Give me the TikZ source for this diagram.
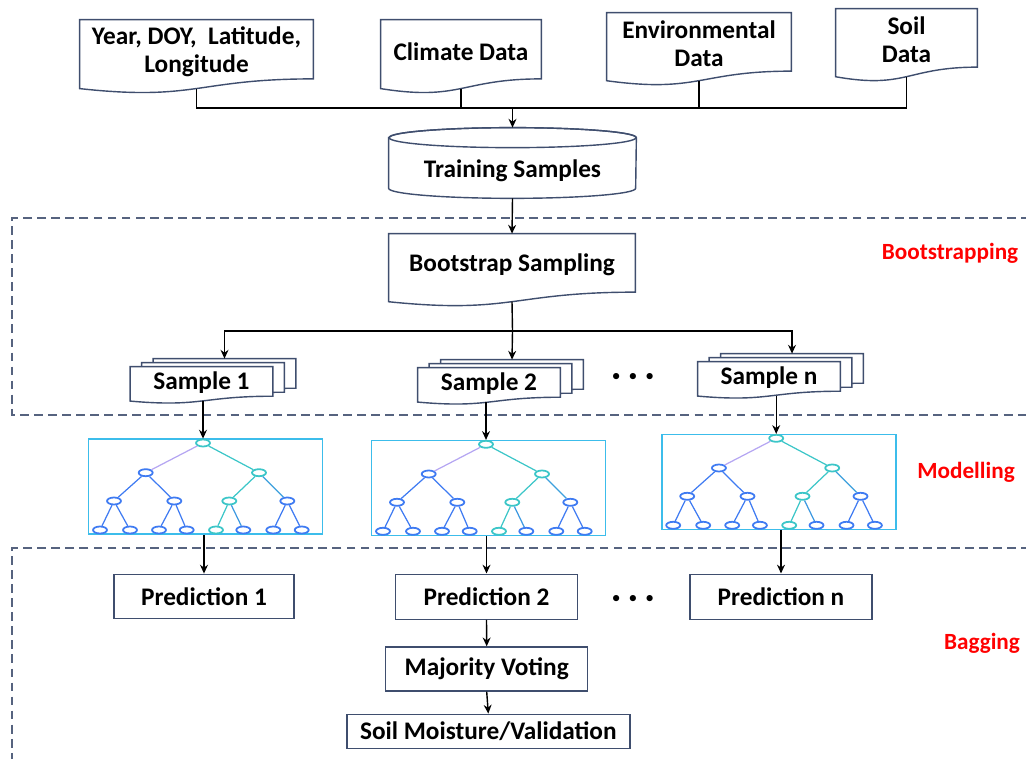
\documentclass[tikz,border=0pt]{standalone}
\usepackage{fontspec}
\setmainfont{Carlito}
\usetikzlibrary{arrows.meta,calc,shapes.geometric,backgrounds}

\definecolor{docedge}{HTML}{3F4E6E}
\definecolor{zonegray}{HTML}{56637F}
\definecolor{boxcyan}{HTML}{3CBDEB}
\definecolor{tblue}{HTML}{3F7BF2}
\definecolor{tteal}{HTML}{3CC6C8}
\definecolor{tlav}{HTML}{B5A6F2}

\def\pxu{0.02cm}
\newcommand\boxfont{\bfseries\fontsize{14.4}{16}\selectfont}

% wavy-bottom document outline behind a node
\newcommand\docpath[1]{%
  \begin{pgfonlayer}{background}
    \draw[docline, fill=white] (#1.north west) -- (#1.north east)
      -- ($(#1.north east)!0.933!(#1.south east)$)
      .. controls ($(#1.north)!0.933!(#1.south)$) and ($(#1.north)!1.287!(#1.south)$)
      .. ($(#1.north west)!1.086!(#1.south west)$) -- cycle;
  \end{pgfonlayer}
  \coordinate (#1-b) at ($(#1.north)!1.085!(#1.south)$);
}

\tikzset{
  docline/.style={draw=docedge, line width=0.8pt},
  sheet/.style={inner sep=1pt, align=center},
  plainbox/.style={draw=docedge, line width=0.8pt, inner sep=1pt, fill=white},
  wire/.style={black, line width=0.8pt},
  flow/.style={wire, -{Stealth[length=5pt,width=4.5pt]}},
  zone/.style={draw=zonegray, line width=0.8pt, dash pattern=on 5pt off 3pt},
  redlab/.style={red, font=\bfseries\fontsize{13.2}{15}\selectfont},
  dotrow/.style={font=\fontsize{10}{12}\selectfont},
  treebox/.style={draw=boxcyan, line width=1pt, inner sep=0,
    minimum width=234*\pxu, minimum height=95*\pxu},
  tnode/.style={ellipse, fill=white, line width=1pt, inner sep=0,
    minimum width=14*\pxu, minimum height=7*\pxu},
  tedge/.style={line width=0.7pt},
  dtree/.pic={
    \node[treebox] (-box) at (0,0) {};
    \node[tnode, draw=tteal] (-root) at (-2.5,-43.7) {};
    \node[tnode, draw=tblue] (-l) at (-59.8,-14) {};
    \node[tnode, draw=tteal] (-r) at (53.5,-14) {};
    \node[tnode, draw=tblue] (-ll) at (-91.5,14.3) {};
    \node[tnode, draw=tblue] (-lr) at (-31.2,14.3) {};
    \node[tnode, draw=tteal] (-rl) at (23.8,14.3) {};
    \node[tnode, draw=tblue] (-rr) at (81.8,14.3) {};
    \foreach \lx/\lc [count=\i] in {-105.5/tblue,-75.5/tblue,-46.5/tblue,-18.8/tblue,
        10.5/tteal,37.8/tblue,67.8/tblue,96.2/tblue}
      \node[tnode, draw=\lc] (-leaf\i) at (\lx,43.3) {};
    \draw[tedge, tlav] (-root) -- (-l);
    \draw[tedge, tteal] (-root) -- (-r);
    \draw[tedge, tblue] (-l) -- (-ll) (-l) -- (-lr);
    \draw[tedge, tteal] (-r) -- (-rl);
    \draw[tedge, tteal!50!tblue] (-r) -- (-rr);
    \draw[tedge, tblue] (-ll) -- (-leaf1) (-ll) -- (-leaf2)
      (-lr) -- (-leaf3) (-lr) -- (-leaf4)
      (-rr) -- (-leaf7) (-rr) -- (-leaf8);
    \draw[tedge, tteal] (-rl) -- (-leaf5);
    \draw[tedge, tteal!40!tblue] (-rl) -- (-leaf6);
  }
}

\begin{document}
\begin{tikzpicture}[x=\pxu, y=-\pxu, font=\boxfont]
  \useasboundingbox (0,0) rectangle (1026,759);

  % Dashed zones
  \draw[zone] (1030,218) -- (12,218) -- (12,415) -- (1030,415);
  \draw[zone] (1030,548) -- (12,548) -- (12,765);

  % Input data
  \node[sheet, minimum width=233*\pxu, minimum height=62.8*\pxu] (year) at (196.5,51.4)
    {Year, DOY,\ \ Latitude,\\Longitude};
  \docpath{year}
  \node[sheet, minimum width=160*\pxu, minimum height=62.8*\pxu] (clim) at (461,51.4)
    {Climate Data};
  \docpath{clim}
  \node[sheet, minimum width=184*\pxu, minimum height=62*\pxu] (env) at (699,44)
    {Environmental\\Data};
  \docpath{env}
  \node[sheet, minimum width=141*\pxu, minimum height=62*\pxu] (soil) at (906.5,40)
    {Soil\\Data};
  \docpath{soil}

  % Merge into training samples
  \coordinate (bus) at (512.5,108);
  \draw[wire] (year-b) |- (soil-b |- bus) -- (soil-b);
  \draw[wire] (clim-b) -- (clim-b |- bus);
  \draw[wire] (env-b) -- (env-b |- bus);

  \node[sheet, minimum width=247*\pxu, minimum height=54*\pxu] (train) at (512.5,171)
    {Training Samples};
  \begin{pgfonlayer}{background}
    \draw[docline, fill=white] ([yshift=6*\pxu]train.north west)
      -- ([yshift=10*\pxu]train.south west)
      arc[start angle=180, end angle=360, x radius=123.5*\pxu, y radius=10*\pxu]
      -- ([yshift=6*\pxu]train.north east)
      arc[start angle=0, end angle=180, x radius=123.5*\pxu, y radius=10*\pxu] -- cycle;
    \draw[docline] ([yshift=6*\pxu]train.north) ellipse [x radius=123.5*\pxu, y radius=10*\pxu];
  \end{pgfonlayer}
  \coordinate (traintop) at ([yshift=16*\pxu]train.north);
  \draw[flow] (bus) -- (traintop);

  % Bootstrapping
  \node[sheet, minimum width=246*\pxu, minimum height=62*\pxu] (boot) at (512,265)
    {Bootstrap Sampling};
  \docpath{boot}
  \draw[flow] (train.south) -- (boot.north);

  \foreach \nm/\cx/\cy/\txt in {s1/201.5/382.5/Sample 1, s2/489/383.5/Sample 2,
      sn/769/377.5/Sample n} {
    \node[sheet, minimum width=142*\pxu, minimum height=31*\pxu] (\nm c) at ({\cx+23},{\cy-8}) {};
    \docpath{\nm c}
    \node[sheet, minimum width=142*\pxu, minimum height=31*\pxu] (\nm m) at ({\cx+11.5},{\cy-4}) {};
    \docpath{\nm m}
    \node[sheet, minimum width=142*\pxu, minimum height=31*\pxu] (\nm) at (\cx,\cy) {\txt};
    \docpath{\nm}
  }
  \coordinate (split) at (512.5,331);
  \draw[wire] (boot-b) -- (split);
  \draw[flow] (split) -- (s2c.north);
  \draw[flow] (split) -| (s1c.north);
  \draw[flow] (split) -| (snc.north);
  \node[dotrow] (dotsup) at (633,377) {\textbullet\hspace{4.5pt}\textbullet\hspace{4.5pt}\textbullet};
  \node[redlab] (lboot) at (950,253) {Bootstrapping};

  % Modelling
  \pic (t1) at (205.5,486.7) {dtree};
  \pic (t2) at (488.5,488) {dtree};
  \pic (t3) at (778.7,482) {dtree};
  \draw[flow] (s1-b -| t1-root) -- (t1-root.north);
  \draw[flow] (s2-b -| t2-root) -- (t2-root.north);
  \draw[flow] (sn-b -| t3-root) -- (t3-root.north);
  \node[redlab] (lmodel) at (966,472) {Modelling};

  % Bagging
  \node[plainbox, minimum width=180*\pxu, minimum height=44*\pxu] (p1) at (204,596.3)
    {Prediction 1};
  \node[plainbox, minimum width=182*\pxu, minimum height=45*\pxu] (p2) at (486.5,596.7)
    {Prediction 2};
  \node[plainbox, minimum width=182*\pxu, minimum height=45*\pxu] (pn) at (781,596.7)
    {Prediction n};
  \draw[flow] (p1.north |- t1-box.south) -- (p1.north);
  \draw[flow] (p2.north |- t2-box.south) -- (p2.north);
  \draw[flow] (pn.north |- t3-box.south) -- (pn.north);
  \node[dotrow] (dotsdown) at (633,599) {\textbullet\hspace{4.5pt}\textbullet\hspace{4.5pt}\textbullet};

  \node[plainbox, minimum width=202*\pxu, minimum height=44*\pxu] (vote) at (486.7,669)
    {Majority Voting};
  \node[plainbox, minimum width=283*\pxu, minimum height=34*\pxu] (valid) at (488.3,731.3)
    {Soil Moisture/Validation};
  \draw[flow] (p2.south) -- (vote.north);
  \draw[flow] (vote.south) -- (valid.north);
  \node[redlab] (lbag) at (982,643) {Bagging};

\end{tikzpicture}
\end{document}
